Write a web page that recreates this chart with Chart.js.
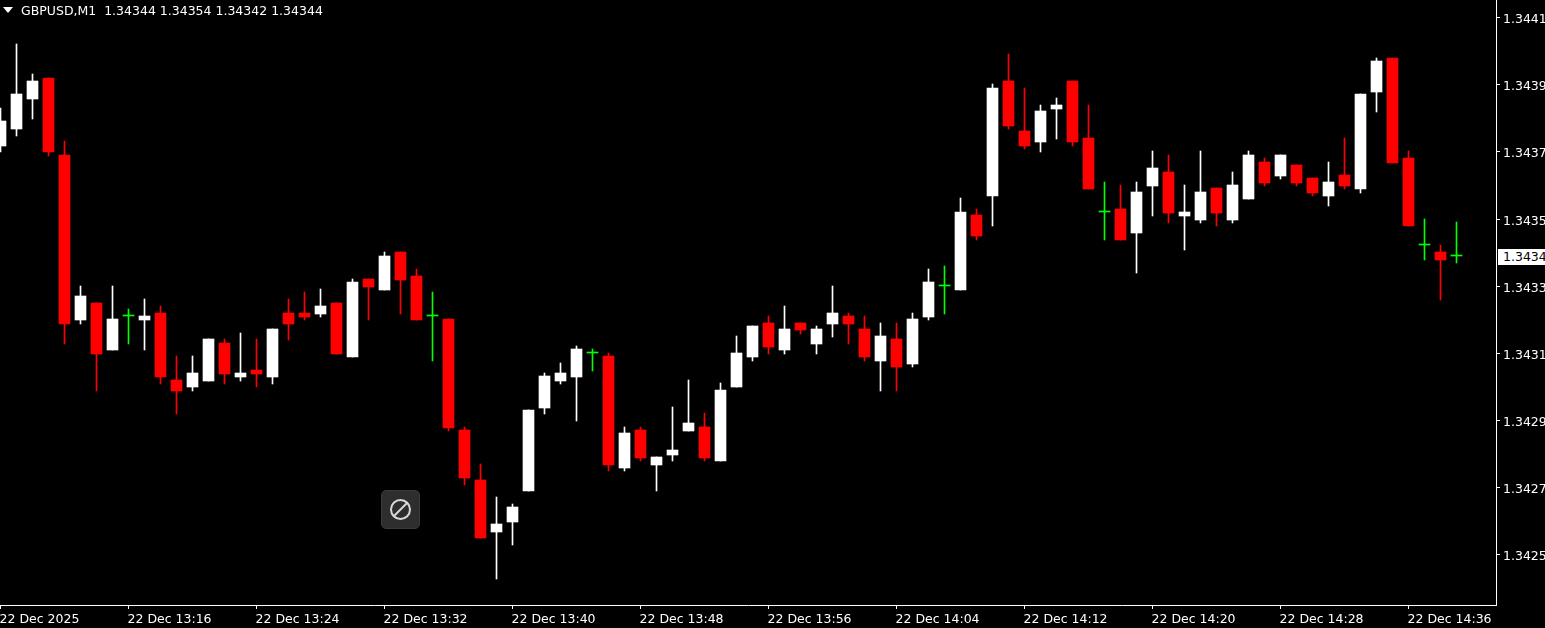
<!DOCTYPE html>
<html>
<head>
<meta charset="utf-8">
<title>GBPUSD,M1</title>
<script src="https://cdn.jsdelivr.net/npm/chart.js@4/dist/chart.umd.min.js"></script>
<style>
  html, body { margin: 0; padding: 0; background: #000; overflow: hidden; }
  #wrap { position: relative; width: 1545px; height: 628px; overflow: hidden; }
  #wrap canvas { display: block; }
  .txt { position: absolute; color: #fff; font: 12.5px "DejaVu Sans", sans-serif; white-space: pre; }
  #arrow { position: absolute; left: 3px; top: 7px; width: 0; height: 0;
    border-left: 5.5px solid transparent; border-right: 5.5px solid transparent; border-top: 6px solid #fff; }
  #header { left: 21px; top: 3px; }
  #last { left: 1498px; top: 249px; width: 47px; height: 16px; line-height: 16px; background: #fff; color: #000; padding-left: 5px; box-sizing: border-box; overflow: hidden; }
  #btn { position: absolute; left: 381px; top: 490px; width: 39px; height: 39px; box-sizing: border-box;
    border-radius: 5px; background: #2e2e2e; border: 1px solid #3a3a3a; }
</style>
</head>
<body>
<div id="wrap">
  <canvas id="chart" width="1545" height="628"></canvas>
  <div id="arrow"></div>
  <div id="header" class="txt">GBPUSD,M1  1.34344 1.34354 1.34342 1.34344</div>
  <div id="last" class="txt">1.3434</div>
  <div id="btn">
    <svg width="37" height="37" viewBox="0 0 37 37">
      <circle cx="18.5" cy="18.5" r="9.5" fill="none" stroke="#d8d8d8" stroke-width="2"/>
      <line x1="12" y1="25" x2="25" y2="12" stroke="#d8d8d8" stroke-width="2"/>
    </svg>
  </div>
</div>
<script>
// одна свеча в минуту, 22 Dec 13:08 ... 14:39
const opens = [
  1.34377,1.34382,1.34391,1.34397,1.34374,1.34325,1.34330,1.34316,1.34326,1.34325,
  1.34327,1.34307,1.34305,1.34307,1.34318,1.34308,1.34310,1.34308,1.34327,1.34327,
  1.34327,1.34330,1.34314,1.34337,1.34334,1.34345,1.34338,1.34326,1.34325,1.34292,
  1.34277,1.34262,1.34265,1.34274,1.34299,1.34307,1.34308,1.34315,1.34314,1.34281,
  1.34292,1.34282,1.34285,1.34292,1.34293,1.34283,1.34305,1.34314,1.34324,1.34316,
  1.34324,1.34318,1.34324,1.34326,1.34322,1.34313,1.34319,1.34312,1.34326,1.34335,
  1.34334,1.34356,1.34362,1.34396,1.34381,1.34378,1.34388,1.34396,1.34379,1.34357,
  1.34358,1.34351,1.34365,1.34369,1.34356,1.34355,1.34364,1.34355,1.34361,1.34372,
  1.34368,1.34371,1.34367,1.34362,1.34368,1.34364,1.34393,1.34403,1.34373,1.34347,
  1.34345,1.34344];
const highs = [
  1.34388,1.34407,1.34398,1.34397,1.34378,1.34335,1.34330,1.34335,1.34328,1.34331,
  1.34329,1.34314,1.34314,1.34319,1.34319,1.34321,1.34319,1.34322,1.34331,1.34333,
  1.34334,1.34330,1.34337,1.34337,1.34345,1.34345,1.34340,1.34333,1.34325,1.34293,
  1.34282,1.34272,1.34270,1.34298,1.34309,1.34312,1.34317,1.34316,1.34315,1.34293,
  1.34293,1.34284,1.34299,1.34307,1.34297,1.34306,1.34320,1.34323,1.34326,1.34329,
  1.34324,1.34323,1.34335,1.34327,1.34326,1.34324,1.34324,1.34327,1.34340,1.34341,
  1.34361,1.34358,1.34395,1.34404,1.34394,1.34389,1.34391,1.34396,1.34389,1.34366,
  1.34365,1.34366,1.34375,1.34374,1.34365,1.34375,1.34364,1.34369,1.34375,1.34373,
  1.34374,1.34371,1.34367,1.34372,1.34379,1.34392,1.34403,1.34403,1.34375,1.34355,
  1.34347,1.34354];
const lows = [
  1.34375,1.34380,1.34385,1.34374,1.34318,1.34324,1.34304,1.34316,1.34318,1.34316,
  1.34306,1.34297,1.34304,1.34307,1.34306,1.34307,1.34305,1.34306,1.34319,1.34325,
  1.34326,1.34315,1.34314,1.34325,1.34334,1.34327,1.34325,1.34313,1.34292,1.34276,
  1.34260,1.34248,1.34258,1.34274,1.34297,1.34306,1.34295,1.34310,1.34280,1.34280,
  1.34283,1.34274,1.34283,1.34292,1.34283,1.34283,1.34305,1.34313,1.34315,1.34315,
  1.34321,1.34315,1.34320,1.34318,1.34313,1.34304,1.34304,1.34311,1.34325,1.34327,
  1.34334,1.34349,1.34353,1.34382,1.34376,1.34375,1.34379,1.34377,1.34364,1.34349,
  1.34349,1.34339,1.34356,1.34354,1.34346,1.34354,1.34353,1.34354,1.34361,1.34365,
  1.34367,1.34365,1.34362,1.34359,1.34364,1.34363,1.34387,1.34372,1.34353,1.34343,
  1.34331,1.34342];
const closes = [
  1.34384,1.34392,1.34396,1.34375,1.34324,1.34332,1.34315,1.34325,1.34326,1.34326,
  1.34308,1.34304,1.34309,1.34319,1.34309,1.34309,1.34309,1.34322,1.34324,1.34326,
  1.34329,1.34315,1.34336,1.34335,1.34344,1.34337,1.34325,1.34326,1.34293,1.34278,
  1.34260,1.34264,1.34269,1.34298,1.34308,1.34309,1.34316,1.34315,1.34282,1.34291,
  1.34284,1.34284,1.34286,1.34294,1.34284,1.34304,1.34315,1.34323,1.34317,1.34322,
  1.34322,1.34322,1.34327,1.34324,1.34314,1.34320,1.34311,1.34325,1.34336,1.34335,
  1.34357,1.34350,1.34394,1.34383,1.34377,1.34387,1.34389,1.34378,1.34364,1.34357,
  1.34349,1.34363,1.34370,1.34357,1.34357,1.34363,1.34357,1.34365,1.34374,1.34366,
  1.34374,1.34366,1.34363,1.34366,1.34365,1.34392,1.34402,1.34372,1.34353,1.34347,
  1.34343,1.34344];

const xTickIndex = [0, 8, 16, 24, 32, 40, 48, 56, 64, 72, 80, 88];
const xTickLabels = ['22 Dec 2025', '22 Dec 13:16', '22 Dec 13:24', '22 Dec 13:32', '22 Dec 13:40', '22 Dec 13:48',
  '22 Dec 13:56', '22 Dec 14:04', '22 Dec 14:12', '22 Dec 14:20', '22 Dec 14:28', '22 Dec 14:36'];
const yTickValues = [1.34415, 1.34395, 1.34375, 1.34355, 1.34335, 1.34315, 1.34295, 1.34275, 1.34255];
const yTickLabels = ['1.3441', '1.3439', '1.3437', '1.3435', '1.3433', '1.3431', '1.3429', '1.3427', '1.3425'];

const PX_PER_UNIT = 335600;
const UP = '#ffffff', DOWN = '#ff0000', FLAT = '#00ff00';
const colors = closes.map((c, i) => c > opens[i] ? UP : c < opens[i] ? DOWN : FLAT);
const yMax = 1.34415 + 17.25 / PX_PER_UNIT;
const fontSpec = { family: '"DejaVu Sans", sans-serif', size: 12.5 };

// MT4 включает нижний пиксель свечи в её тело
const includeBottomRow = {
  id: 'includeBottomRow',
  afterDatasetsUpdate(chart) {
    chart.data.datasets.forEach((ds, d) => {
      chart.getDatasetMeta(d).data.forEach((el, i) => {
        if (ds.label === 'Body' && opens[i] === closes[i]) return;
        if (el.base > el.y) el.base += 1;
        else el.y += 1;
      });
    });
  },
};

new Chart(document.getElementById('chart'), {
  type: 'bar',
  plugins: [includeBottomRow],
  data: {
    datasets: [
      {
        label: 'Wick',
        data: highs.map((h, i) => ({ x: i, y: [lows[i], h] })),
        backgroundColor: colors,
        barThickness: 1,
        order: 2,
      },
      {
        label: 'Body',
        data: opens.map((o, i) => ({ x: i, y: [o, closes[i]] })),
        backgroundColor: colors,
        barThickness: 11,
        minBarLength: 1,
        order: 1,
      },
    ],
  },
  options: {
    responsive: false,
    animation: false,
    events: [],
    layout: { padding: 0 },
    plugins: { legend: { display: false }, tooltip: { enabled: false } },
    datasets: { bar: { grouped: false } },
    scales: {
      x: {
        type: 'linear',
        offset: false,
        min: -0.03125,
        max: 93.46875,
        afterBuildTicks: s => { s.ticks = xTickIndex.map(value => ({ value })); },
        afterFit: s => { s.height = 23; s.paddingLeft = 0; s.paddingRight = 0; },
        grid: { offset: false, drawOnChartArea: false, color: '#fff', tickLength: 4 },
        border: { color: '#fff' },
        ticks: {
          color: '#fff', font: fontSpec, align: 'start', padding: 3, labelOffset: -1,
          autoSkip: false, maxRotation: 0,
          callback: (v, i) => xTickLabels[i],
        },
      },
      y: {
        type: 'linear',
        position: 'right',
        min: yMax - 605 / PX_PER_UNIT,
        max: yMax,
        afterBuildTicks: s => { s.ticks = yTickValues.map(value => ({ value })); },
        afterFit: s => { s.width = 49; s.paddingTop = 0; s.paddingBottom = 0; },
        // MT4 рисует по целым пикселям
        afterUpdate: s => {
          if (s.snapped) return;
          s.snapped = true;
          const raw = s.getPixelForValue.bind(s);
          s.getPixelForValue = v => Math.round(raw(v));
        },
        grid: { drawOnChartArea: false, color: '#fff', tickLength: 4 },
        border: { color: '#fff' },
        ticks: {
          color: '#fff', font: fontSpec, padding: 3, labelOffset: 3,
          callback: (v, i) => yTickLabels[i],
        },
      },
    },
  },
});
</script>
</body>
</html>
